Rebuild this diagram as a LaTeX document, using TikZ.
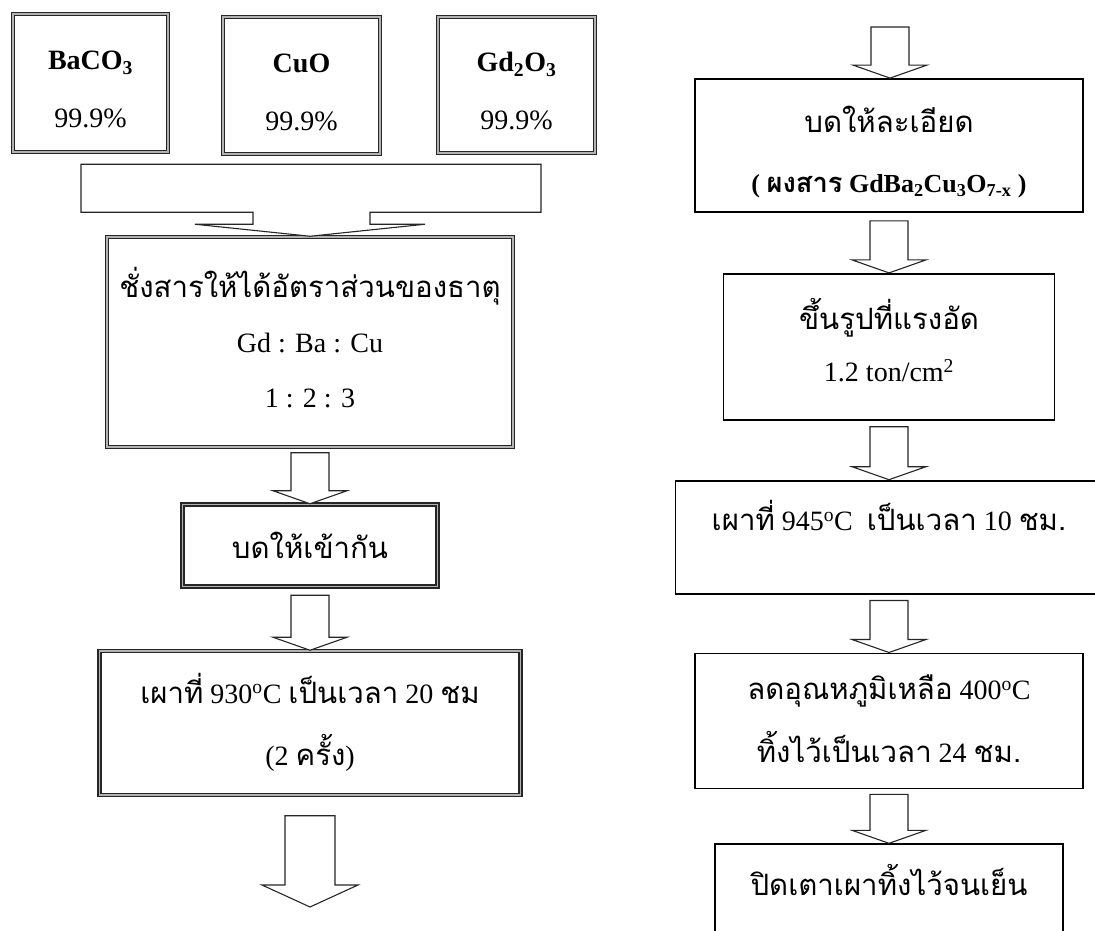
\documentclass[tikz,border=0pt]{standalone}
\usepackage{fontspec}
\setmainfont{Liberation Serif}
\newfontfamily\thaifont[Script=Thai, Scale=1.05]{Loma}
\usetikzlibrary{positioning, calc, shadows}
\newcommand{\thai}[1]{{\thaifont #1}}
\newcommand{\degC}{\textsuperscript{o}C}
\tikzset{
  cadre/.style={rectangle, draw=black!85, line width=1.5pt, double=gray!60,
    double distance=1.5pt, fill=white, align=center, inner sep=0pt,
    font=\fontsize{28}{34}\selectfont,
    drop shadow={shadow xshift=1.5pt, shadow yshift=-1.5pt, fill=black!70, opacity=1}},
  etape/.style={rectangle, draw=black, line width=1.8pt, fill=white,
    align=center, inner sep=0pt, font=\fontsize{28}{34}\selectfont},
  flechebloc/.style={draw=black!85, line width=1.1pt, fill=white, line join=miter}
}
% grosse fleche vers le bas : [demi tige/demi pointe/longueur pointe]{depart}{arrivee}
\newcommand{\flechebloc}[3][19/37/13]{%
  \foreach \tige/\pointe/\tete in {#1}{%
    \draw[flechebloc] let \p1=(#2), \p2=(#3) in
      (\x1-\tige,\y1) -- (\x1-\tige,\y2+\tete) -- (\x1-\pointe,\y2+\tete)
      -- (\x1,\y2) -- (\x1+\pointe,\y2+\tete) -- (\x1+\tige,\y2+\tete)
      -- (\x1+\tige,\y1) -- cycle;
  }}

\begin{document}
\begin{tikzpicture}[x=1pt, y=-1pt]
  \useasboundingbox (0,0) rectangle (1095,931);
  % produits de depart
  \node[cadre, minimum width=155, minimum height=138, text height=100pt, text depth=10pt]
    (baco) at (90.5,83) {\textbf{BaCO\textsubscript{3}}\\[24pt] 99.9\%};
  \node[cadre, minimum width=157, minimum height=137, text height=100pt, text depth=10pt]
    (cuo) at (301.5,85.5) {\textbf{CuO}\\[24pt] 99.9\%};
  \node[cadre, minimum width=157, minimum height=136, text height=100pt, text depth=10pt]
    (gdo) at (516.5,85) {\textbf{Gd\textsubscript{2}O\textsubscript{3}}\\[24pt] 99.9\%};

  % colonne de gauche
  \node[cadre, minimum width=406, minimum height=210, text height=140pt, text depth=10pt]
    (pesee) at (310,342)
    {\thai{ชั่งสารให้ได้อัตราส่วนของธาตุ}\\[21pt] Gd : Ba : Cu\\[21pt] 1 : 2 : 3};
  \node[cadre, minimum width=255, minimum height=82, below=56pt of pesee] (melange)
    {\thai{บดให้เข้ากัน}};
  \node[cadre, minimum width=421, minimum height=144, text height=94pt, text depth=10pt,
    below=63pt of melange] (calcin)
    {\thai{เผาที่} 930\degC\ \thai{เป็นเวลา} 20 \thai{ชม}\\[28pt] (2 \thai{ครั้ง})};
  \coordinate (fin) at (310,907);

  % colonne de droite
  \coordinate (suite) at (890,27);
  \node[etape, minimum width=388, minimum height=133, text height=105pt, text depth=10pt]
    (broyage) at (889,145.5)
    {\thai{บดให้ละเอียด}\\[26pt] {\fontsize{26}{34}\selectfont\bfseries ( \thai{ผงสาร} GdBa\textsubscript{2}Cu\textsubscript{3}O\textsubscript{7-x} )}};
  \node[etape, minimum width=331, minimum height=146, text height=80pt, text depth=10pt,
    below=60pt of broyage] (pastille)
    {\thai{ขึ้นรูปที่แรงอัด}\\[18pt] 1.2 ton/cm\textsuperscript{2}};
  \node[etape, minimum width=427, minimum height=113, text height=20pt, text depth=33pt,
    below=59pt of pastille] (frittage)
    {\thai{เผาที่} 945\degC\ \ \thai{เป็นเวลา} 10 \thai{ชม.}};
  \node[etape, minimum width=388, minimum height=135, text height=93pt, text depth=10pt,
    below=58pt of frittage] (recuit)
    {\thai{ลดอุณหภูมิเหลือ} 400\degC\\[23pt] \thai{ทิ้งไว้เป็นเวลา} 24 \thai{ชม.}};
  \node[etape, minimum width=348, minimum height=140, text height=20pt, text depth=58pt,
    below=54pt of recuit] (refroid)
    {\thai{ปิดเตาเผาทิ้งไว้จนเย็น}};

  % fleche de regroupement des trois poudres
  \draw[flechebloc] (pesee.north) -- ++(-115,-12) -- ++(58,0) -- ++(0,-12) -- ++(-172,0)
    -- ++(0,-48) -- ++(460,0) -- ++(0,48) -- ++(-171,0) -- ++(0,12) -- ++(55,0) -- cycle;

  \flechebloc{$(pesee.south)+(0,5)$}{melange.north}
  \flechebloc{$(melange.south)+(0,8)$}{calcin.north}
  \flechebloc[25/48/22]{$(calcin.south)+(0,20)$}{fin}

  \flechebloc{suite}{broyage.north}
  \flechebloc{$(broyage.south)+(0,8)$}{pastille.north}
  \flechebloc{$(pastille.south)+(0,6)$}{frittage.north}
  \flechebloc{$(frittage.south)+(0,6)$}{recuit.north}
  \flechebloc{$(recuit.south)+(0,5)$}{refroid.north}
\end{tikzpicture}
\end{document}
